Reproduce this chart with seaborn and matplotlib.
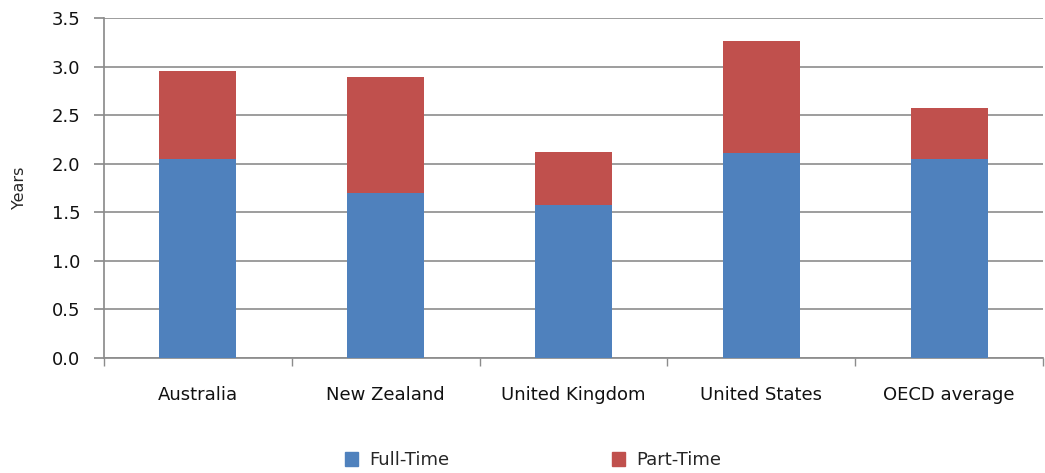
import matplotlib
matplotlib.use("Agg")
import matplotlib.pyplot as plt
import seaborn as sns
import pandas as pd
import numpy as np
from matplotlib.patches import Patch

countries = ["Australia", "New Zealand", "United Kingdom", "United States", "OECD average"]
full_time = [2.05, 1.70, 1.57, 2.11, 2.05]
part_time = [0.90, 1.19, 0.55, 1.15, 0.52]
yticks = [0.0, 0.5, 1.0, 1.5, 2.0, 2.5, 3.0, 3.5]

sns.set_theme(style="white")
plt.rcParams['font.family'] = ['DejaVu Sans']

blue = "#4F81BD"
red = "#C0504D"

df = pd.DataFrame({"country": countries, "full": full_time,
                   "total": np.array(full_time) + np.array(part_time)})

fig = plt.figure(figsize=(10.45, 4.73), dpi=100)
ax = fig.add_axes([104/1045, 1-358/473, (1043-104)/1045, (358-18)/473])

sns.barplot(data=df, x="country", y="total", color=red, width=0.41,
            saturation=1, ax=ax, zorder=3, linewidth=0, edgecolor="none")
sns.barplot(data=df, x="country", y="full", color=blue, width=0.41,
            saturation=1, ax=ax, zorder=3, linewidth=0, edgecolor="none")

ax.set_ylim(0, 3.5)
ax.set_xlim(-0.5, len(countries) - 0.5)
ax.set_yticks(yticks)
ax.set_yticklabels([f"{v:.1f}" for v in yticks], fontsize=13)
ax.yaxis.grid(True, color="#8c8c8c", linewidth=1.2, zorder=0)
ax.set_axisbelow(True)
ax.set_xlabel("")
ax.set_ylabel("Years", fontsize=11.5, labelpad=18)
ax.tick_params(axis="x", labelsize=13, pad=20, length=0, colors="#111111")
ax.tick_params(axis="y", left=True, length=7, color="#8c8c8c", pad=10,
               labelcolor="#111111")
for s in ["top", "right"]:
    ax.spines[s].set_visible(False)
ax.spines["left"].set_color("#8c8c8c")
ax.spines["bottom"].set_color("#8c8c8c")
ax.set_xticks(np.arange(-0.5, len(countries), 1.0), minor=True)
ax.tick_params(axis="x", which="minor", bottom=True, length=6, color="#8c8c8c")

handles = [Patch(color=blue, label="Full-Time"), Patch(color=red, label="Part-Time")]
fig.legend(handles=handles, loc="center", bbox_to_anchor=(0.51, 0.027), ncol=2,
           frameon=False, fontsize=13, handlelength=0.75, handleheight=0.75,
           columnspacing=9, handletextpad=0.6)

fig.savefig("out.png", dpi=100)
